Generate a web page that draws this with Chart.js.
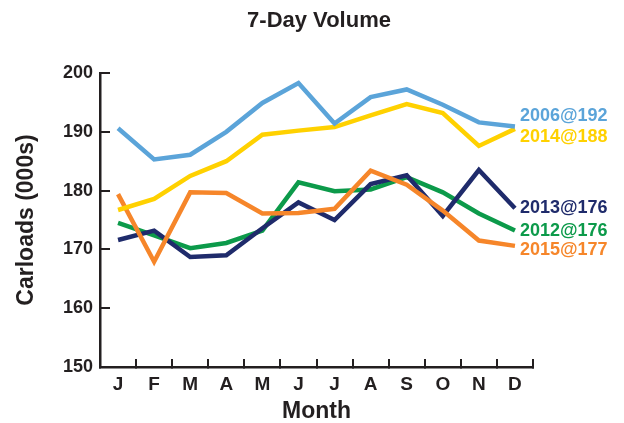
<!DOCTYPE html>
<html>
<head>
<meta charset="utf-8">
<script src="https://cdn.jsdelivr.net/npm/chart.js@4"></script>
<style>
  body { margin: 0; background: #fff; }
  #wrap { width: 624px; height: 423px; }
</style>
</head>
<body>
<div id="wrap"><canvas id="chart" width="624" height="423"></canvas></div>
<script>
// Months on the x axis
const months = ['J', 'F', 'M', 'A', 'M', 'J', 'J', 'A', 'S', 'O', 'N', 'D'];

// Weekly carloads (000s)
const y2006 = [190.6, 185.3, 186.1, 190.0, 194.9, 198.3, 191.4, 195.9, 197.2, 194.6, 191.6, 190.9];
const y2014 = [176.7, 178.6, 182.5, 185.0, 189.5, 190.2, 190.8, 192.8, 194.7, 193.2, 187.6, 190.5];
const y2015 = [179.4, 167.9, 179.7, 179.6, 176.1, 176.2, 176.9, 183.4, 181.0, 176.6, 171.5, 170.6];
const y2013 = [171.6, 173.2, 168.7, 169.0, 173.6, 178.0, 175.0, 181.1, 182.6, 175.7, 183.5, 177.0];
const y2012 = [174.5, 172.4, 170.2, 171.1, 173.2, 181.4, 179.9, 180.2, 182.3, 179.7, 176.1, 173.2];

// End-of-line labels
const seriesLabels = ['2006@192', '2014@188', '2015@177', '2013@176', '2012@176'];

const yTicks = [150, 160, 170, 180, 190, 200];

const ink = '#231f20';
const font = "'Liberation Sans', Arial, sans-serif";
const colors = ['#5ba4d9', '#ffd100', '#f6862a', '#1f2b6b', '#0c9a4a'];
const nudge = [-10, 8, 4, 0, 0]; // keep the right-hand labels from colliding

const series = [y2006, y2014, y2015, y2013, y2012];

const endLabelPlugin = {
    id: 'endLabels',
    afterDatasetsDraw(chart) {
        const ctx = chart.ctx;
        ctx.save();
        ctx.font = 'bold 18px ' + font;
        ctx.textAlign = 'left';
        ctx.textBaseline = 'middle';
        chart.data.datasets.forEach((ds, i) => {
            const meta = chart.getDatasetMeta(i);
            const last = meta.data[meta.data.length - 1];
            ctx.fillStyle = ds.borderColor;
            ctx.fillText(seriesLabels[i], last.x + 5, last.y + nudge[i]);
        });
        ctx.restore();
    }
};

new Chart(document.getElementById('chart'), {
    type: 'line',
    data: {
        labels: months,
        datasets: series.map((s, i) => ({
            label: seriesLabels[i],
            data: s,
            borderColor: colors[i],
            backgroundColor: colors[i],
            borderWidth: 4.5,
            borderJoinStyle: 'miter',
            pointRadius: 0,
            tension: 0,
            fill: false
        }))
    },
    options: {
        responsive: false,
        animation: false,
        layout: { padding: { left: 14, right: 0, top: 0, bottom: 0 } },
        plugins: {
            legend: { display: false },
            tooltip: { enabled: false },
            title: {
                display: true,
                text: '7-Day Volume',
                color: ink,
                font: { family: font, size: 22, weight: 'bold' },
                padding: { top: 8, bottom: 38.6 }
            }
        },
        scales: {
            x: {
                offset: true,
                afterFit: s => { s.height = 56; },
                grid: {
                    offset: true,
                    drawOnChartArea: false,
                    drawTicks: true,
                    tickLength: -8,
                    color: ink,
                    lineWidth: 2
                },
                border: { display: true, color: ink, width: 2.5 },
                ticks: {
                    color: ink,
                    padding: 14,
                    autoSkip: false,
                    maxRotation: 0,
                    font: { family: font, size: 19, weight: 'bold' }
                },
                title: {
                    display: true,
                    text: 'Month',
                    color: ink,
                    font: { family: font, size: 23, weight: 'bold' },
                    padding: { top: 0, bottom: -2 }
                }
            },
            y: {
                min: 150,
                max: 200,
                afterFit: s => { s.width = 86; },
                afterBuildTicks: s => { s.ticks = yTicks.map(v => ({ value: v })); },
                grid: {
                    drawOnChartArea: false,
                    drawTicks: true,
                    tickLength: -10,
                    color: ink,
                    lineWidth: 2
                },
                border: { display: true, color: ink, width: 2.5 },
                ticks: {
                    color: ink,
                    padding: 17,
                    font: { family: font, size: 18, weight: 'bold' }
                },
                title: {
                    display: true,
                    text: 'Carloads (000s)',
                    color: ink,
                    font: { family: font, size: 23, weight: 'bold' },
                    padding: { top: -1, bottom: 0 }
                }
            },
            // empty right-hand axis that reserves room for the end labels
            yRight: {
                position: 'right',
                display: true,
                afterFit: s => { s.width = 91; },
                grid: { display: false },
                border: { display: false },
                ticks: { display: false }
            }
        }
    },
    plugins: [endLabelPlugin]
});
</script>
</body>
</html>
